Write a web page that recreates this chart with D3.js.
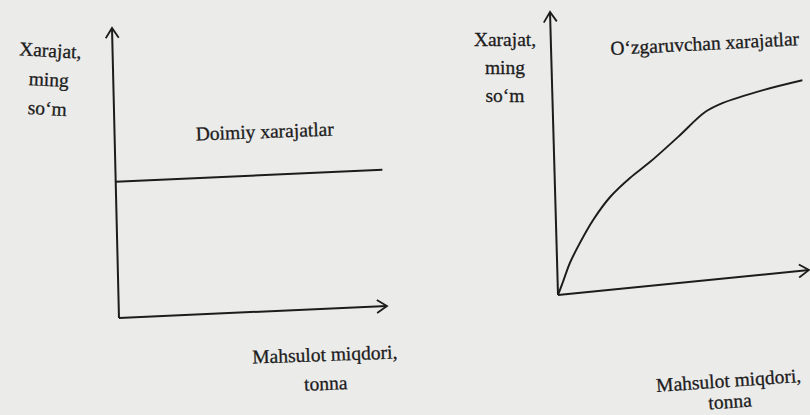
<!DOCTYPE html>
<html>
<head>
<meta charset="utf-8">
<script src="https://cdn.jsdelivr.net/npm/d3@7"></script>
<style>
  html, body { margin: 0; padding: 0; background: #ebebea; }
  svg { display: block; }
</style>
</head>
<body>
<svg id="chart"></svg>
<script>
// data
const yLabelLines = ['Xarajat,', 'ming', 'so‘m'];
const xLabelLines = ['Mahsulot miqdori,', 'tonna'];
const fixedTitle = 'Doimiy xarajatlar';
const variableTitle = 'O‘zgaruvchan xarajatlar';

const fixedX = [0, 9.95];
const fixedY = [4.7, 4.7];

const variableX = [0, 0.21, 0.51, 0.93, 1.48, 2.18, 2.99, 3.8, 4.95, 6.05, 6.77, 8.38, 9.95];
const variableY = [0, 0.44, 1.09, 1.76, 2.52, 3.27, 3.87, 4.36, 5.15, 5.93, 6.19, 6.5, 6.71];

const width = 810, height = 415;
const ink = '#1c1c1c';
const serif = '"Liberation Serif", "Times New Roman", Times, serif';

const svg = d3.select('#chart')
  .attr('width', width)
  .attr('height', height);

svg.append('rect')
  .attr('width', width)
  .attr('height', height)
  .attr('fill', '#ebebea');

const defs = svg.append('defs');
defs.append('marker')
  .attr('id', 'arrow')
  .attr('markerUnits', 'userSpaceOnUse')
  .attr('viewBox', '-12 -8 14 16')
  .attr('markerWidth', 14)
  .attr('markerHeight', 16)
  .attr('refX', 0)
  .attr('refY', 0)
  .attr('orient', 'auto')
  .append('path')
  .attr('d', 'M-10,-6.5L0,0L-10,6.5')
  .attr('fill', 'none')
  .attr('stroke', ink)
  .attr('stroke-width', 1.8)
  .attr('stroke-linejoin', 'miter');

// the scan is a bit skewed, so each panel gets its own affine frame
function panel(w, h, matrix, xs, ys) {
  const g = svg.append('g').attr('transform', `matrix(${matrix.join(',')})`);

  const x = d3.scaleLinear().domain([0, 10]).range([0, w]);
  const y = d3.scaleLinear().domain([0, 10]).range([h, 0]);

  const line = d3.line()
    .x(d => x(d[0]))
    .y(d => y(d[1]));

  // axes
  g.append('path')
    .attr('d', line([[0, 0], [0, 10]]))
    .attr('fill', 'none')
    .attr('stroke', ink)
    .attr('stroke-width', 2)
    .attr('marker-end', 'url(#arrow)');

  g.append('path')
    .attr('d', line([[0, 0], [10, 0]]))
    .attr('fill', 'none')
    .attr('stroke', ink)
    .attr('stroke-width', 2)
    .attr('marker-end', 'url(#arrow)');

  g.append('path')
    .datum(d3.zip(xs, ys))
    .attr('d', line.curve(d3.curveCatmullRom))
    .attr('fill', 'none')
    .attr('stroke', ink)
    .attr('stroke-width', 2)
    .attr('stroke-linejoin', 'round');

  return g;
}

panel(268, 290, [1, -0.0448, 0.0241, 1, 112, 28], fixedX, fixedY);
panel(251, 283, [1, -0.0996, 0.0283, 1, 550, 12], variableX, variableY);

// labels
function label(lines, cx, y0, step, angle) {
  const t = svg.append('g')
    .attr('transform', `translate(${cx},${y0}) rotate(${angle})`);
  t.selectAll('text')
    .data(lines)
    .join('text')
    .attr('font-family', serif)
    .attr('font-size', 19.5)
    .attr('fill', ink)
    .attr('stroke', ink)
    .attr('stroke-width', 0.3)
    .attr('text-anchor', 'middle')
    .attr('y', (d, i) => i * step)
    .text(d => d);
}

label(yLabelLines, 50, 57, 29, 3);
label([fixedTitle], 265, 138, 0, -2);
label(xLabelLines, 325, 361, 29, -2);

label(yLabelLines, 505, 46, 28, 0);
label([variableTitle], 705, 50, 0, -3);
label(xLabelLines, 729, 387, 21, -4);
</script>
</body>
</html>
